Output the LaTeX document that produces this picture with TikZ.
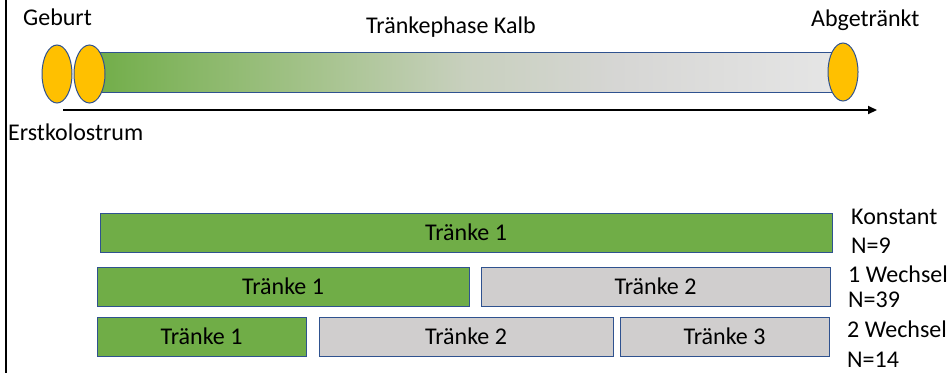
\documentclass[tikz,border=0pt]{standalone}
\usepackage{fontspec}
\setmainfont{Carlito}
\usetikzlibrary{shapes.geometric,arrows.meta}
\definecolor{cgreen}{RGB}{112,173,71}
\definecolor{cgray}{RGB}{208,206,206}
\definecolor{cborder}{RGB}{47,82,143}
\definecolor{cgold}{RGB}{255,192,0}
\definecolor{gA}{RGB}{165,195,140}
\definecolor{gB}{RGB}{200,208,190}
\definecolor{gC}{RGB}{214,214,212}
\definecolor{gD}{RGB}{230,230,230}
\pgfdeclarehorizontalshading{bargrad}{100bp}{color(0bp)=(cgreen); color(25bp)=(cgreen); color(40bp)=(gA); color(50bp)=(gB); color(60bp)=(gC); color(75bp)=(gD); color(100bp)=(gD)}
\begin{document}
\begin{tikzpicture}[x=1pt,y=-1pt,
  font=\fontsize{24}{28}\selectfont,
  bar/.style={draw=cborder, line width=1pt, rectangle, inner sep=0pt, minimum height=39pt},
  greenbar/.style={bar, fill=cgreen},
  graybar/.style={bar, fill=cgray},
  ell/.style={draw=cborder, line width=1pt, fill=cgold, ellipse, inner sep=0pt, minimum width=30pt, minimum height=58pt},
  lbl/.style={anchor=base west, inner sep=0pt}]
\useasboundingbox (0,0) rectangle (949,373);
\fill[white] (0,0) rectangle (949,373);
% left border line
\coordinate (lt) at (6,0);
\coordinate (lb) at (6,373);
\draw[line width=2pt] (lt) -- (lb);
% timeline bar
\node[draw=cborder, line width=1pt, shading=bargrad, rectangle, inner sep=0pt, minimum width=753pt, minimum height=40pt] (tbar) at (466.5,72) {};
\node[ell] (e1) at (57,74) {};
\node[ell, minimum width=31pt] (e2) at (89.5,74) {};
\node[ell] (e3) at (843,72) {};
% arrow
\coordinate (as) at (63,110);
\coordinate (ae) at (877,110);
\draw[line width=2pt, -{Triangle[length=9pt,width=8pt]}] (as) -- (ae);
% top labels
\node[lbl] (geb) at (23,25) {Geburt};
\node[lbl] (phase) at (366,33) {Tränkephase Kalb};
\node[lbl] (abg) at (811,26) {Abgetränkt};
\node[lbl] (kol) at (8,140) {Erstkolostrum};
% rows
\node[greenbar, minimum width=732pt] (r1a) at (466,232.5) {Tränke 1};
\node[greenbar, minimum width=372pt] (r2a) at (283,286.5) {Tränke 1};
\node[graybar, minimum width=349pt] (r2b) at (655.5,286.5) {Tränke 2};
\node[greenbar, minimum width=209pt] (r3a) at (201.5,336.5) {Tränke 1};
\node[graybar, minimum width=294pt] (r3b) at (466,336.5) {Tränke 2};
\node[graybar, minimum width=209pt] (r3c) at (724.5,336.5) {Tränke 3};
% right labels
\node[lbl] (k1) at (851,224) {Konstant};
\node[lbl] (k2) at (851,253) {N=9};
\node[lbl] (w1) at (848,282) {1 Wechsel};
\node[lbl] (w2) at (848,307) {N=39};
\node[lbl] (v1) at (847,337) {2 Wechsel};
\node[lbl, text depth=0pt] (v2) at (847,367) {N=14};
\end{tikzpicture}
\end{document}
